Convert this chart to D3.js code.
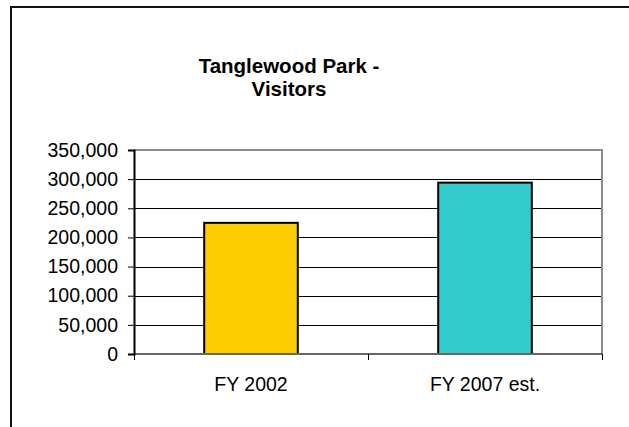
<!DOCTYPE html>
<html>
<head>
<meta charset="utf-8">
<script src="https://cdn.jsdelivr.net/npm/d3@7"></script>
<style>
  html, body { margin: 0; padding: 0; background: #fff; }
  svg { display: block; }
  text { font-family: Arial, "Liberation Sans", sans-serif; fill: #000; }
</style>
</head>
<body>
<svg id="chart" width="629" height="427"></svg>
<script>
const titleLines = ["Tanglewood Park -", "Visitors"];
const categories = ["FY 2002", "FY 2007 est."];
const visitors = [225000, 294000];
const barColors = ["#FFCC00", "#33CCCC"];
const yTicks = [0, 50000, 100000, 150000, 200000, 250000, 300000, 350000];

const W = 629, H = 427;
const plot = { left: 134, right: 602, top: 150, bottom: 354 };

const svg = d3.select("#chart");
svg.append("rect").attr("width", W).attr("height", H).attr("fill", "#fff");

// outer chart border (extends beyond right/bottom)
svg.append("rect")
  .attr("x", 11).attr("y", 7).attr("width", W + 20).attr("height", H + 20)
  .attr("fill", "none").attr("stroke", "#111").attr("stroke-width", 2);

// title
svg.append("text")
  .attr("text-anchor", "middle")
  .style("font-size", "20.5px").style("font-weight", "bold")
  .selectAll("tspan").data(titleLines).join("tspan")
  .attr("x", 289).attr("y", (d, i) => 73 + i * 23)
  .text(d => d);

const x = d3.scaleBand().domain(categories).range([plot.left, plot.right]).paddingInner(0.6).paddingOuter(0.3);
const xb = d3.scaleBand().domain(categories).range([plot.left, plot.right]).padding(0);
const y = d3.scaleLinear().domain([0, 350000]).range([plot.bottom, plot.top]);

// gridlines
svg.append("g").selectAll("line")
  .data(yTicks.filter(t => t > 0 && t < 350000)).join("line")
  .attr("x1", plot.left).attr("x2", plot.right)
  .attr("y1", d => Math.round(y(d)) + 0.5).attr("y2", d => Math.round(y(d)) + 0.5)
  .attr("stroke", "#000").attr("stroke-width", 1);

// plot border top & right (gray)
svg.append("path")
  .attr("d", `M${plot.left},${plot.top} H${plot.right} V${plot.bottom}`)
  .attr("fill", "none").attr("stroke", "#8c8c8c").attr("stroke-width", 2);

// bars
svg.append("g").selectAll("rect")
  .data(visitors).join("rect")
  .attr("x", (d, i) => x(categories[i]))
  .attr("width", x.bandwidth())
  .attr("y", d => y(d))
  .attr("height", d => y(0) - y(d))
  .attr("fill", (d, i) => barColors[i])
  .attr("stroke", "#000").attr("stroke-width", 2);

// x axis
const xAxis = svg.append("g").attr("transform", `translate(0,${plot.bottom})`);
xAxis.append("line").attr("x1", plot.left).attr("x2", plot.right)
  .attr("stroke", "#666").attr("stroke-width", 2);
const xTickPos = [plot.left].concat(categories.map(c => xb(c) + xb.bandwidth()));
xAxis.selectAll("line.tk").data(xTickPos).join("line").attr("class", "tk")
  .attr("x1", d => d + 0.5).attr("x2", d => d + 0.5).attr("y1", 0).attr("y2", 6)
  .attr("stroke", "#000").attr("stroke-width", 1);
xAxis.selectAll("text").data(categories).join("text")
  .attr("x", d => xb(d) + xb.bandwidth() / 2).attr("y", 37)
  .attr("text-anchor", "middle").style("font-size", "19.5px")
  .text(d => d);

// y axis
const yAxis = d3.axisLeft(y).tickValues(yTicks).tickSize(6).tickPadding(10)
  .tickFormat(d3.format(","));
const gy = svg.append("g").attr("transform", `translate(${plot.left},0)`).call(yAxis);
gy.select(".domain").attr("stroke", "#000").attr("stroke-width", 2);
gy.selectAll(".tick line").attr("stroke", "#000");
gy.selectAll(".tick text").style("font-size", "19.5px")
  .style("font-family", "Arial, 'Liberation Sans', sans-serif").attr("fill", "#000");
</script>
</body>
</html>
